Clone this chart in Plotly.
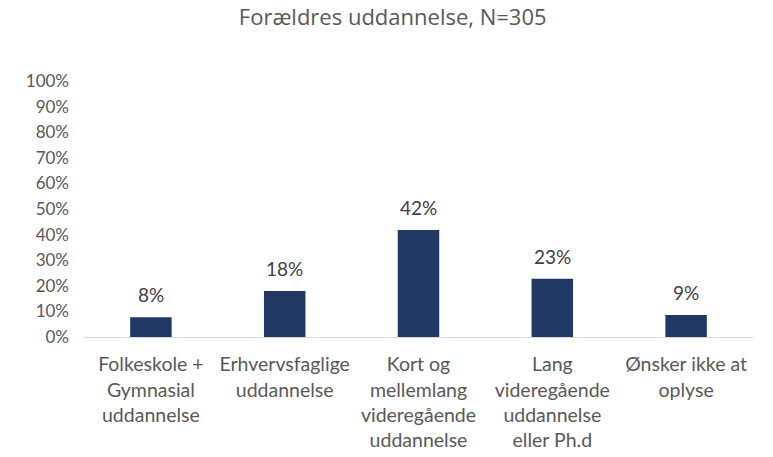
import plotly.graph_objects as go

categories = ["Folkeskole +<br>Gymnasial<br>uddannelse",
              "Erhvervsfaglige<br>uddannelse",
              "Kort og<br>mellemlang<br>videregående<br>uddannelse",
              "Lang<br>videregående<br>uddannelse<br>eller Ph.d",
              "Ønsker ikke at<br>oplyse"]
values = [7.7, 18.0, 41.8, 22.8, 8.6]
labels = ["8%", "18%", "42%", "23%", "9%"]
tick_vals = list(range(0, 101, 10))
tick_text = [f"{v}%" for v in tick_vals]

fig = go.Figure(go.Bar(
    x=categories, y=values,
    marker=dict(color="#203864", line=dict(width=0)),
    width=0.31,
))

for c, v, t in zip(categories, values, labels):
    fig.add_annotation(x=c, y=v, text=t, showarrow=False, yanchor="bottom",
                       yshift=9,
                       font=dict(family="Lato, sans-serif", size=19, color="#404040"))

fig.update_layout(
    width=773, height=457,
    margin=dict(l=84, r=20, t=81, b=120),
    paper_bgcolor="white", plot_bgcolor="white",
    title=dict(text="Forældres uddannelse, N=305", x=0.508, xref="container",
               xanchor="center", y=0.962, yref="container", yanchor="middle",
               pad=dict(t=0, b=0, l=0, r=0),
               font=dict(family="Open Sans, sans-serif", size=22, color="#595959")),
    showlegend=False,
    xaxis=dict(showline=True, linecolor="#D9D9D9", linewidth=1, ticks="",
               ticklabelstandoff=10, automargin=False,
               tickfont=dict(family="Lato, sans-serif", size=19.5, color="#595959")),
    yaxis=dict(range=[0, 100], tickvals=tick_vals, ticktext=tick_text,
               showgrid=False, zeroline=False, showline=False, automargin=False,
               ticklabelstandoff=14,
               tickfont=dict(family="Lato, sans-serif", size=17, color="#595959")),
)

fig.write_html("out.html",
               config={"displayModeBar": False},
               post_script="document.body.style.margin='0';document.body.style.padding='0';")
